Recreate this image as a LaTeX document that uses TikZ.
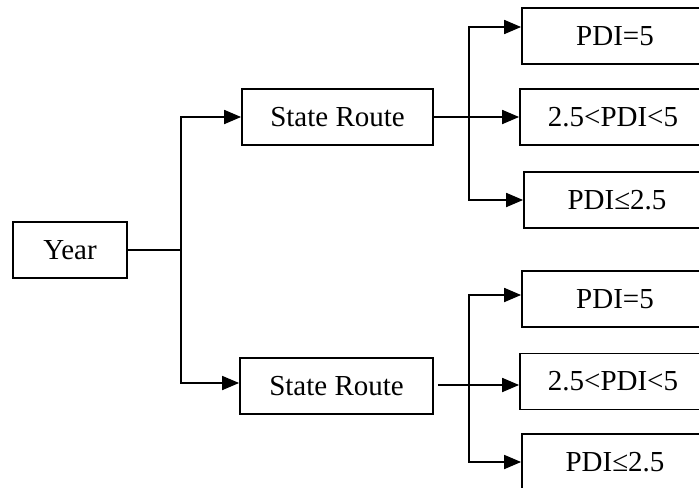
\documentclass[tikz,border=0pt]{standalone}
\usepackage{fontspec}
\setmainfont{Liberation Serif}
\usetikzlibrary{arrows.meta}

\begin{document}
\begin{tikzpicture}[x=0.5pt,y=-0.5pt,
box/.style = {draw, line width=0.9pt, minimum height=28pt, font=\fontsize{14.5}{17}\selectfont},
conn/.style = {line width=0.9pt},
arr/.style = {conn, -{Triangle[length=8.5pt,width=7pt]}}]
\useasboundingbox (0,0) rectangle (699,487);
\node[box, minimum width=57pt] (year) at (70,250) {Year};
\node[box, minimum width=95.5pt] (sr1) at (337.5,117) {State Route};
\node[box, minimum width=96.5pt] (sr2) at (336.5,386) {State Route};
% upper route
\node[box, minimum width=93pt] (pa1) at (615,36) {PDI=5};
\node[box, minimum width=93pt] (pa2) at (613,117) {2.5<PDI<5};
\node[box, minimum width=93pt] (pa3) at (617,200) {PDI≤2.5};
% lower route
\node[box, minimum width=93pt] (pb1) at (615,299) {PDI=5};
\node[box, minimum width=93pt] (pb2) at (613,381.5) {2.5<PDI<5};
\node[box, minimum width=93pt] (pb3) at (615,462) {PDI≤2.5};
\coordinate (yf) at (181,250);
\coordinate (f1) at (469,117);
\coordinate (f2) at (469,385);
\draw[conn] (year) -- (yf);
\draw[arr] (yf) |- ([yshift=0pt]sr1.west);
\draw[arr] (yf) |- ([yshift=1.5pt]sr2.west);
\draw[conn] (sr1) -- (f1);
\draw[arr] (f1) |- ([yshift=4.5pt]pa1.west);
\draw[arr] (f1) -- (pa2);
\draw[arr] (f1) |- (pa3);
\draw[conn] ([xshift=2pt]sr2.east |- f2) -- (f2);
\draw[arr] (f2) |- ([yshift=2pt]pb1.west);
\draw[arr] (f2) -- (f2 -| pb2.west);
\draw[arr] (f2) |- (pb3);
\end{tikzpicture}
\end{document}
